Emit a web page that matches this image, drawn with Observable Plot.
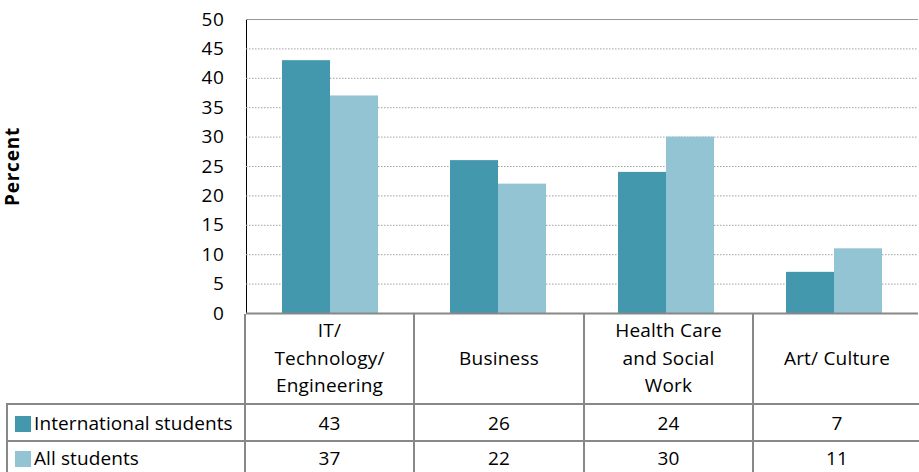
<!DOCTYPE html>
<html>
<head>
<meta charset="utf-8">
<script src="https://cdn.jsdelivr.net/npm/d3@7"></script>
<script src="https://cdn.jsdelivr.net/npm/@observablehq/plot@0.6"></script>
<style>
  body { margin: 0; background: #fff; font-family: "Open Sans", sans-serif; }
  #wrap { width: 919px; }
  #chart svg { display: block; font-family: "Open Sans", sans-serif; overflow: visible; }
  #chart svg text { fill: #000; font-size: 19px; letter-spacing: 0.6px; }
  table.dt { position: relative; border-collapse: collapse; table-layout: fixed; margin-left: 6px; margin-top: -16px; width: 913px;
    font: 19px "Open Sans", sans-serif; letter-spacing: 0.2px; color: #000; }
  table.dt td { padding: 0; text-align: center; vertical-align: middle; }
  table.dt tr.head td { height: 89px; line-height: 27.5px; }
  table.dt tr.r1 td { height: 35px; }
  table.dt tr.r2 td { height: 32px; }
  table.dt tr.head td.cat { border-left: 2px solid #888; }
  table.dt tr.r1 td, table.dt tr.r2 td { border-left: 2px solid #888; border-top: 2px solid #888; }
  table.dt td.lab { text-align: left; padding-left: 7px; white-space: nowrap; letter-spacing: 0.1px; }
  .sw { display: inline-block; width: 16px; height: 16px; vertical-align: -2px; margin-right: 3px; }
</style>
</head>
<body>
<div id="wrap">
  <div id="chart"></div>
  <table class="dt" id="table"></table>
</div>
<script>
const categories = ["IT/ Technology/ Engineering", "Business", "Health Care and Social Work", "Art/ Culture"];
const categoryLines = [["IT/", "Technology/", "Engineering"], ["Business"], ["Health Care", "and Social", "Work"], ["Art/ Culture"]];
const seriesNames = ["International students", "All students"];
const international = [43, 26, 24, 7];
const allStudents = [37, 22, 30, 11];
const colors = ["#4398AE", "#93C4D4"];
const yTicks = [0, 5, 10, 15, 20, 25, 30, 35, 40, 45, 50];
const gridTicks = [5, 10, 15, 20, 25, 30, 35, 40, 45];

const data = categories.flatMap((c, i) => [
  {category: c, series: seriesNames[0], value: international[i]},
  {category: c, series: seriesNames[1], value: allStudents[i]}
]);

const chart = Plot.plot({
  width: 919,
  height: 330,
  marginLeft: 244,
  marginRight: 0,
  marginTop: 19,
  marginBottom: 17,
  style: {fontSize: "19px", fontFamily: "Open Sans, sans-serif"},
  facet: {data, x: "category"},
  fx: {domain: categories, padding: 0, axis: null},
  x: {domain: seriesNames, paddingInner: 0, paddingOuter: 0.74, axis: null},
  y: {domain: [0, 50], ticks: yTicks, tickSize: 0, tickPadding: 22, line: true,
      label: "Percent", labelAnchor: "center", labelOffset: 241},
  color: {domain: seriesNames, range: colors},
  marks: [
    Plot.ruleY(gridTicks, {stroke: "#a0a0a0", strokeWidth: 1, strokeDasharray: "1.5,1.5"}),
    Plot.ruleY([50], {stroke: "#999", strokeWidth: 1}),
    Plot.barY(data, {x: "series", y: "value", fill: "series"}),
    Plot.ruleY([0], {stroke: "#888", strokeWidth: 2})
  ]
});
document.getElementById("chart").appendChild(chart);

// style axis line and label
chart.querySelectorAll("[aria-label='y-axis'] path.domain, [aria-label='y-axis line'] *").forEach(p => {
  p.setAttribute("stroke", "#888"); p.setAttribute("stroke-width", "2");
});
chart.querySelectorAll("[aria-label='y-axis'] .label, [aria-label='y-axis label'] text").forEach(t => {
  t.setAttribute("font-weight", "bold");
  t.style.letterSpacing = "0.8px";
  t.textContent = "Percent";
});

// data table
const table = document.getElementById("table");
const cg = document.createElement("colgroup");
[238, 169, 170, 169, 167].forEach(w => { const c = document.createElement("col"); c.style.width = w + "px"; cg.appendChild(c); });
table.appendChild(cg);
const head = table.insertRow(); head.className = "head";
head.insertCell();
categoryLines.forEach(lines => {
  const td = head.insertCell(); td.className = "cat";
  td.innerHTML = lines.join("<br>");
});
[international, allStudents].forEach((vals, si) => {
  const tr = table.insertRow(); tr.className = si === 0 ? "r1" : "r2";
  const lab = tr.insertCell(); lab.className = "lab";
  lab.innerHTML = `<span class="sw" style="background:${colors[si]}"></span>${seriesNames[si]}`;
  vals.forEach(v => { tr.insertCell().textContent = v; });
});
</script>
</body>
</html>
